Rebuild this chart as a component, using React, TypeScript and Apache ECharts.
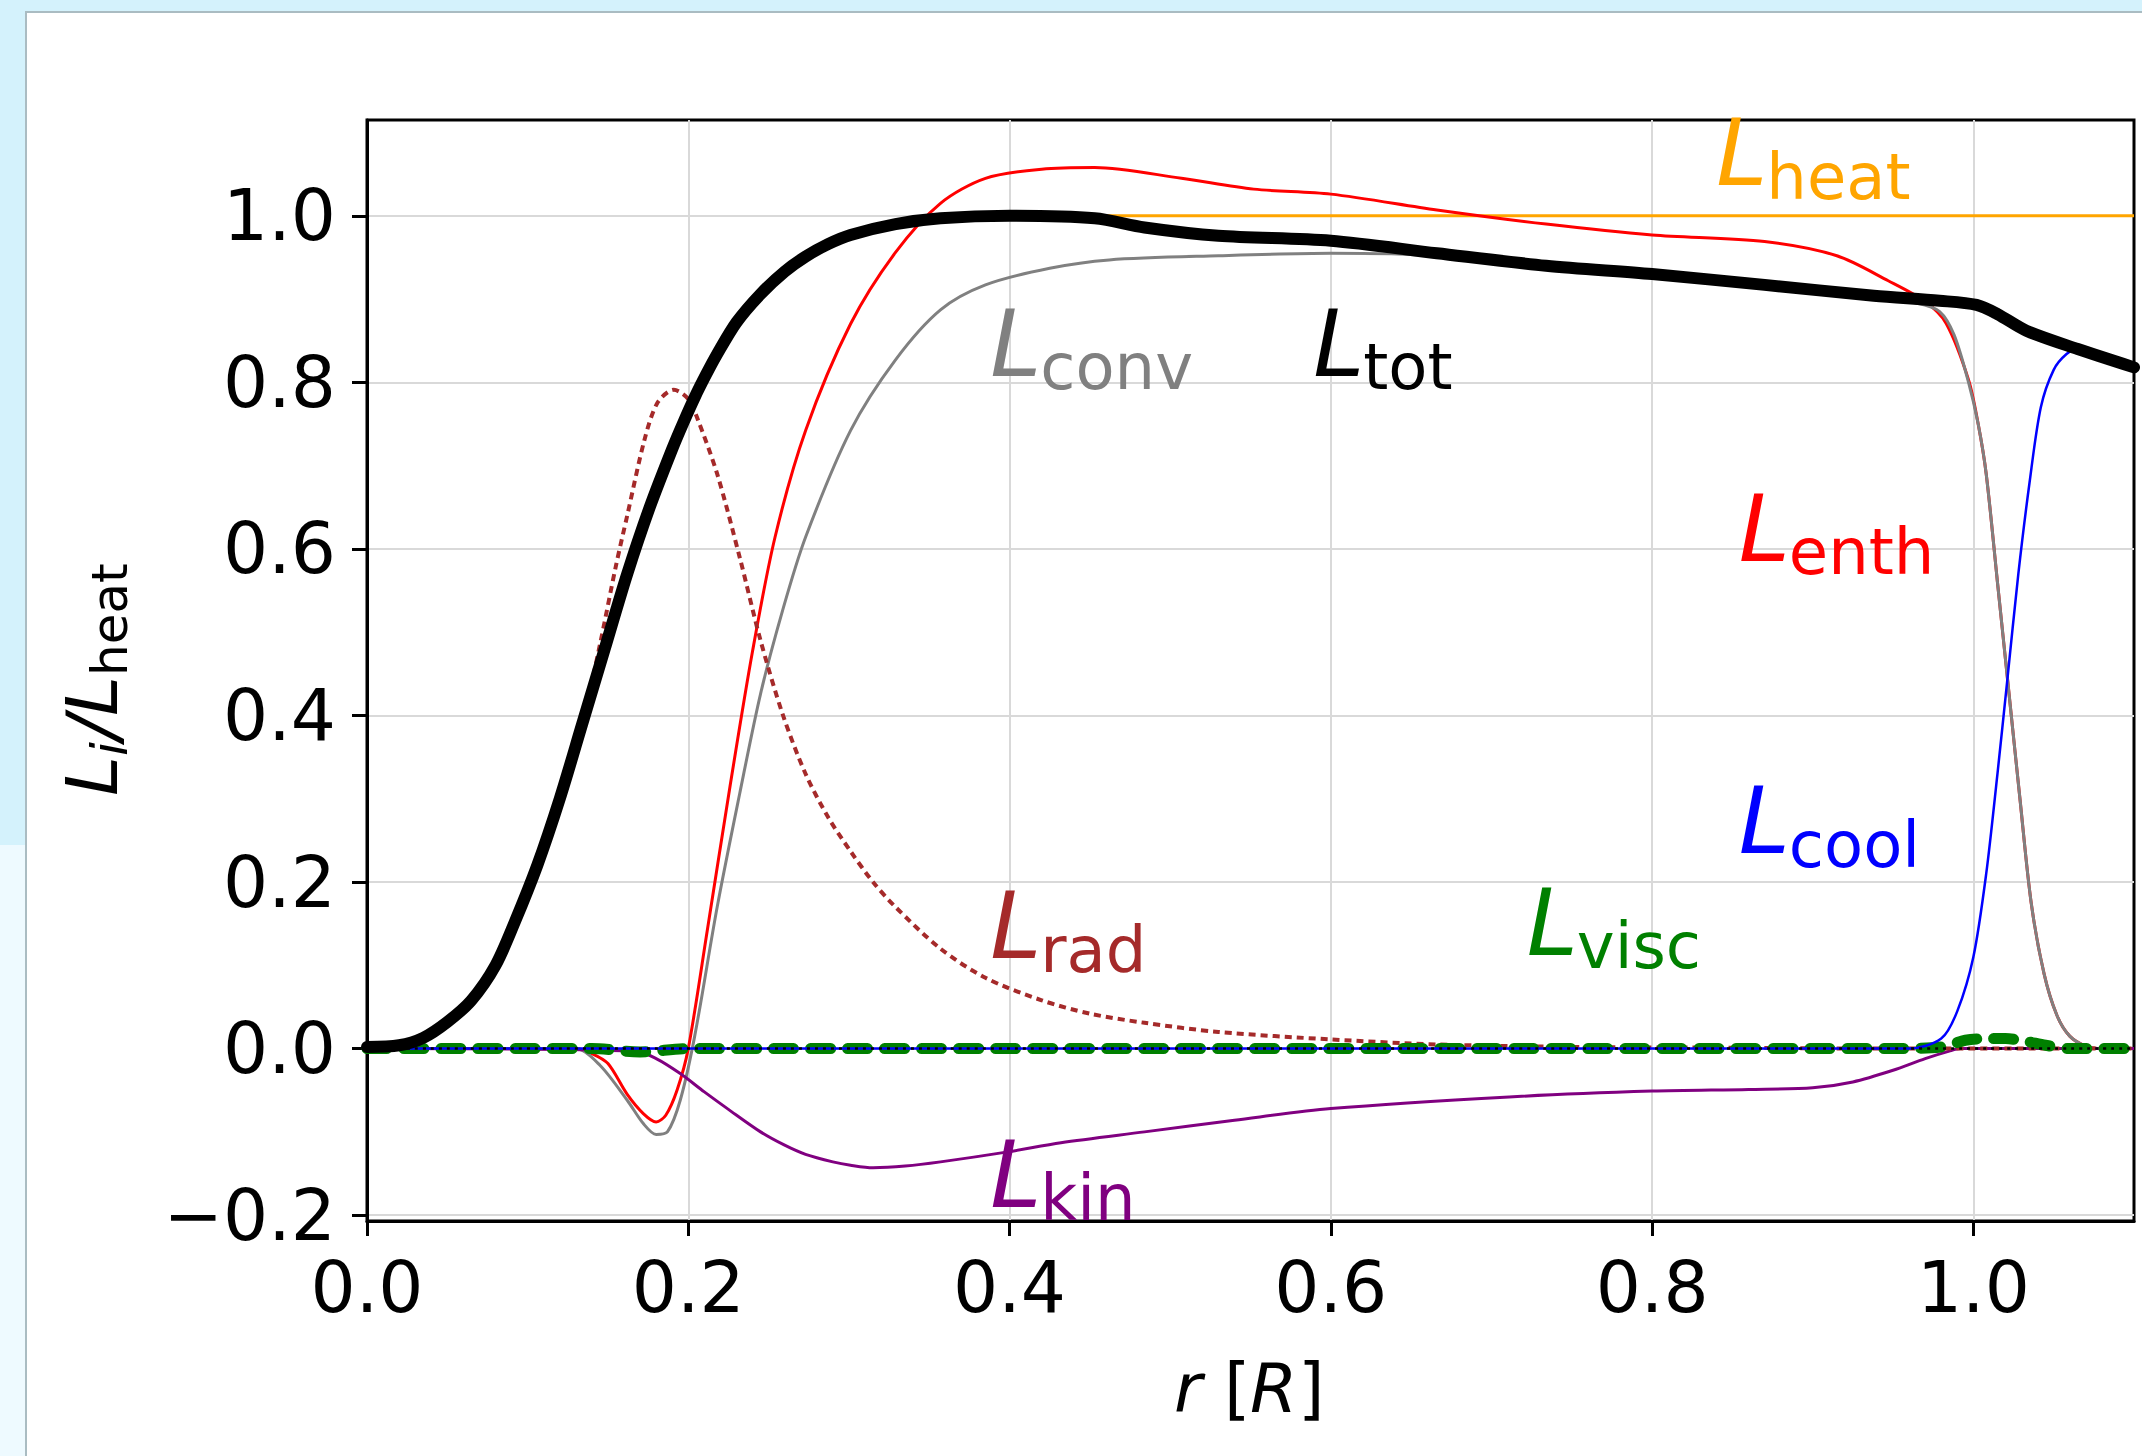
import React, { useEffect, useRef } from 'react';
import * as echarts from 'echarts';

// ---------- tick values ----------
const xTicks = [0, 0.2, 0.4, 0.6, 0.8, 1.0];
const yTicks = [-0.2, 0, 0.2, 0.4, 0.6, 0.8, 1.0];

// ---------- series data (r in units of R, L_i / L_heat) ----------
const rTot = [0, 0.02, 0.035, 0.05, 0.065, 0.08, 0.092, 0.106, 0.12, 0.134, 0.148, 0.162, 0.176, 0.19, 0.197, 0.204, 0.211, 0.218, 0.23, 0.245, 0.26, 0.273, 0.287, 0.301, 0.329, 0.357, 0.4, 0.453, 0.484, 0.53, 0.6, 0.666, 0.734, 0.8, 0.87, 0.938, 0.979, 1.002, 1.015, 1.033, 1.065, 1.1];
const lTot = [0.002, 0.004, 0.013, 0.032, 0.058, 0.1, 0.152, 0.22, 0.3, 0.39, 0.48, 0.57, 0.65, 0.72, 0.752, 0.782, 0.809, 0.834, 0.872, 0.906, 0.933, 0.951, 0.966, 0.977, 0.99, 0.997, 1.0, 0.997, 0.986, 0.976, 0.97, 0.955, 0.94, 0.93, 0.917, 0.904, 0.898, 0.893, 0.882, 0.862, 0.84, 0.818];

const rEnth = [0, 0.13, 0.14, 0.15, 0.162, 0.172, 0.18, 0.186, 0.193, 0.2, 0.212, 0.226, 0.24, 0.254, 0.273, 0.301, 0.329, 0.357, 0.385, 0.42, 0.453, 0.507, 0.552, 0.6, 0.666, 0.734, 0.8, 0.87, 0.915, 0.947, 0.97, 0.983, 0.997, 1.003, 1.008, 1.015, 1.022, 1.029, 1.036, 1.044, 1.052, 1.06, 1.07, 1.08, 1.1];
const lEnth = [0, 0, -0.006, -0.018, -0.055, -0.078, -0.088, -0.08, -0.05, 0.0, 0.144, 0.315, 0.477, 0.614, 0.742, 0.87, 0.956, 1.015, 1.045, 1.056, 1.058, 1.045, 1.032, 1.026, 1.007, 0.99, 0.977, 0.969, 0.952, 0.922, 0.897, 0.871, 0.803, 0.75, 0.69, 0.56, 0.43, 0.3, 0.175, 0.09, 0.04, 0.015, 0.003, 0, 0];

const rConv = [0, 0.13, 0.145, 0.162, 0.172, 0.18, 0.187, 0.195, 0.204, 0.218, 0.232, 0.245, 0.259, 0.273, 0.301, 0.329, 0.357, 0.385, 0.425, 0.462, 0.53, 0.6, 0.666, 0.734, 0.8, 0.87, 0.938, 0.965, 0.979, 0.988, 0.997, 1.003, 1.008, 1.015, 1.022, 1.029, 1.036, 1.044, 1.052, 1.06, 1.07, 1.08, 1.1];
const lConv = [0, 0, -0.02, -0.062, -0.09, -0.103, -0.1, -0.062, 0.015, 0.17, 0.306, 0.426, 0.528, 0.614, 0.742, 0.827, 0.887, 0.917, 0.937, 0.947, 0.952, 0.955, 0.952, 0.938, 0.928, 0.915, 0.902, 0.895, 0.885, 0.857, 0.8, 0.75, 0.69, 0.56, 0.43, 0.3, 0.175, 0.09, 0.04, 0.015, 0.003, 0, 0];

const rRad = [0, 0.02, 0.035, 0.05, 0.065, 0.08, 0.092, 0.106, 0.12, 0.134, 0.145, 0.155, 0.162, 0.173, 0.181, 0.191, 0.2, 0.206, 0.218, 0.232, 0.245, 0.259, 0.273, 0.287, 0.301, 0.315, 0.329, 0.357, 0.385, 0.42, 0.45, 0.484, 0.53, 0.6, 0.666, 0.75, 0.85, 0.95, 1.1];
const lRad = [0.002, 0.004, 0.013, 0.032, 0.058, 0.1, 0.152, 0.22, 0.3, 0.39, 0.485, 0.58, 0.64, 0.733, 0.776, 0.791, 0.78, 0.755, 0.69, 0.59, 0.49, 0.4, 0.33, 0.278, 0.237, 0.2, 0.17, 0.12, 0.085, 0.058, 0.042, 0.031, 0.02, 0.011, 0.005, 0.002, 0.001, 0, 0];

const rKin = [0, 0.167, 0.18, 0.195, 0.21, 0.225, 0.245, 0.26, 0.273, 0.29, 0.301, 0.315, 0.335, 0.357, 0.399, 0.432, 0.484, 0.54, 0.6, 0.711, 0.8, 0.86, 0.9, 0.925, 0.95, 0.97, 0.985, 0.992, 1.1];
const lKin = [0, -0.003, -0.012, -0.03, -0.052, -0.073, -0.1, -0.116, -0.127, -0.136, -0.14, -0.143, -0.141, -0.136, -0.124, -0.113, -0.1, -0.086, -0.072, -0.058, -0.051, -0.049, -0.047, -0.04, -0.026, -0.012, -0.003, 0, 0];

const rCool = [0, 0.96, 0.98, 0.99, 1.0, 1.008, 1.015, 1.021, 1.028, 1.035, 1.042, 1.05, 1.058, 1.065, 1.08, 1.1];
const lCool = [0, 0, 0.012, 0.045, 0.11, 0.21, 0.33, 0.44, 0.57, 0.68, 0.77, 0.815, 0.834, 0.84, 0.832, 0.818];

const rVisc = [0, 0.14, 0.17, 0.2, 0.95, 0.98, 0.995, 1.008, 1.02, 1.032, 1.045, 1.06, 1.1];
const lVisc = [0, 0, -0.004, 0, 0, 0.002, 0.01, 0.012, 0.012, 0.009, 0.004, 0, 0];

const rHeat = [0.4, 1.1];
const lHeat = [1.0, 1.0];

const rZero = [0, 1.1];
const lZero = [0, 0];

// ---------- curve label anchors (data coords of L's baseline-left) ----------
const curveLabels = [
  { sub: 'heat', color: '#ffa500', r: 0.84, v: 1.036 },
  { sub: 'conv', color: '#808080', r: 0.388, v: 0.807 },
  { sub: 'tot', color: '#000000', r: 0.589, v: 0.807 },
  { sub: 'enth', color: '#ff0000', r: 0.854, v: 0.585 },
  { sub: 'cool', color: '#0000ff', r: 0.854, v: 0.234 },
  { sub: 'rad', color: '#a52a2a', r: 0.388, v: 0.108 },
  { sub: 'visc', color: '#008000', r: 0.722, v: 0.112 },
  { sub: 'kin', color: '#800080', r: 0.388, v: -0.19 },
];

const W = 2142;
const H = 1456;
const FONT = 'DejaVu Sans';
const K = 0.346; // central-baseline offset (em) for DejaVu Sans
const LFS = 92;
const SFS = 64;
const TFS = 71;

function pairs(xs: number[], ys: number[]) {
  return xs.map((x, i) => [x, ys[i]]);
}

function fmt(v: number) {
  const s = Math.abs(v).toFixed(1);
  return v < -1e-9 ? '\u2212' + s : s;
}

export default function App() {
  const ref = useRef<HTMLDivElement>(null);

  useEffect(() => {
    const el = ref.current!;
    const chart = echarts.init(el, null, { renderer: 'svg', width: W, height: H });

    const line = (name: string, xs: number[], ys: number[], color: string, width: number, type: any = 'solid', cap: any = 'butt') => ({
      type: 'line',
      name,
      data: pairs(xs, ys),
      showSymbol: false,
      symbol: 'none',
      smooth: 0.3,
      silent: true,
      lineStyle: { color, width, type, cap, join: 'round' },
    });

    chart.setOption({
      animation: false,
      backgroundColor: 'transparent',
      grid: {
        left: 367,
        top: 120,
        right: 8,
        bottom: 235,
        show: true,
        borderColor: '#000',
        borderWidth: 3,
        backgroundColor: 'transparent',
        containLabel: false,
        outerBoundsMode: 'none',
      },
      xAxis: {
        type: 'value',
        min: 0,
        max: 1.1,
        interval: 0.2,
        axisLine: { show: true, onZero: false, lineStyle: { color: '#000', width: 3 } },
        axisTick: { show: true, length: 15, lineStyle: { color: '#000', width: 3 }, customValues: xTicks },
        axisLabel: { customValues: xTicks, formatter: fmt, fontSize: TFS, fontFamily: FONT, color: '#000', margin: 31 },
        splitLine: { show: true, lineStyle: { color: '#d9d9d9', width: 2 } },
      },
      yAxis: {
        type: 'value',
        min: -0.207,
        max: 1.115,
        splitNumber: 7,
        axisLine: { show: true, onZero: false, lineStyle: { color: '#000', width: 3 } },
        axisTick: { show: true, length: 15, lineStyle: { color: '#000', width: 3 }, customValues: yTicks },
        axisLabel: { customValues: yTicks, formatter: fmt, fontSize: TFS, fontFamily: FONT, color: '#000', margin: 31 },
        splitLine: { show: true, lineStyle: { color: '#d9d9d9', width: 2 } },
      },
      series: [
        line('L_heat', rHeat, lHeat, '#ffa500', 3),
        line('L_enth', rEnth, lEnth, '#ff0000', 3),
        line('L_conv', rConv, lConv, '#808080', 3),
        line('L_kin', rKin, lKin, '#800080', 3),
        line('L_rad', rRad, lRad, '#a52a2a', 4, [7, 5]),
        line('L_visc', rVisc, lVisc, '#008000', 11, [20, 17], 'round'),
        line('L_cool', rCool, lCool, '#0000ff', 2.5),
        line('zero', rZero, lZero, '#000000', 2.5, [3, 5]),
        line('L_tot', rTot, lTot, '#000000', 12, 'solid', 'round'),
      ],
    });

    const graphics: any[] = curveLabels.map((l) => {
      const [px, py] = chart.convertToPixel({ gridIndex: 0 } as any, [l.r, l.v]) as number[];
      return {
        type: 'group',
        x: px,
        y: py,
        silent: true,
        children: [
          {
            type: 'text',
            x: 0,
            y: -K * LFS,
            style: { text: 'L', fontSize: LFS, fontStyle: 'italic', fontFamily: FONT, fill: l.color, align: 'left', verticalAlign: 'middle' },
          },
          {
            type: 'text',
            x: 50,
            y: 13 - K * SFS,
            style: { text: l.sub, fontSize: SFS, fontFamily: FONT, fill: l.color, align: 'left', verticalAlign: 'middle' },
          },
        ],
      };
    });

    // x-axis title: r [R]
    graphics.push({
      type: 'group',
      x: 1250,
      y: 1412 - K * 68,
      silent: true,
      children: [
        { type: 'text', x: -76, y: 0, style: { text: 'r', fontSize: 68, fontStyle: 'italic', fontFamily: FONT, fill: '#000', align: 'left', verticalAlign: 'middle' } },
        { type: 'text', x: -26, y: 0, style: { text: '[', fontSize: 68, fontFamily: FONT, fill: '#000', align: 'left', verticalAlign: 'middle' } },
        { type: 'text', x: 0, y: 0, style: { text: 'R', fontSize: 68, fontStyle: 'italic', fontFamily: FONT, fill: '#000', align: 'left', verticalAlign: 'middle' } },
        { type: 'text', x: 48, y: 0, style: { text: ']', fontSize: 68, fontFamily: FONT, fill: '#000', align: 'left', verticalAlign: 'middle' } },
      ],
    });

    // y-axis title: L_i / L_heat (rotated)
    const YF = 72;
    const YS = 50;
    graphics.push({
      type: 'group',
      x: 117,
      y: 680,
      rotation: Math.PI / 2,
      silent: true,
      children: [
        { type: 'text', x: -116, y: -K * YF, style: { text: 'L', fontSize: YF, fontStyle: 'italic', fontFamily: FONT, fill: '#000', align: 'left', verticalAlign: 'middle' } },
        { type: 'text', x: -76, y: 10 - K * YS, style: { text: 'i', fontSize: YS, fontStyle: 'italic', fontFamily: FONT, fill: '#000', align: 'left', verticalAlign: 'middle' } },
        { type: 'text', x: -60, y: -K * YF, style: { text: '/', fontSize: YF, fontStyle: 'italic', fontFamily: FONT, fill: '#000', align: 'left', verticalAlign: 'middle' } },
        { type: 'text', x: -36, y: -K * YF, style: { text: 'L', fontSize: YF, fontStyle: 'italic', fontFamily: FONT, fill: '#000', align: 'left', verticalAlign: 'middle' } },
        { type: 'text', x: 4, y: 10 - K * YS, style: { text: 'heat', fontSize: YS, fontFamily: FONT, fill: '#000', align: 'left', verticalAlign: 'middle' } },
      ],
    });

    chart.setOption({ graphic: graphics });

    return () => {
      chart.dispose();
    };
  }, []);

  return (
    <div style={{ position: 'fixed', left: 0, top: 0, width: W, height: H, background: '#d4f2fc', overflow: 'hidden' }}>
      <div style={{ position: 'absolute', left: 0, top: 845, width: 25, height: H - 845, background: '#eefaff' }} />
      <div
        style={{
          position: 'absolute',
          left: 25,
          top: 11,
          right: 0,
          bottom: 0,
          background: '#ffffff',
          borderLeft: '2px solid #aabcc2',
          borderTop: '2px solid #aabcc2',
        }}
      />
      <div ref={ref} style={{ position: 'absolute', left: 0, top: 0, width: W, height: H }} />
    </div>
  );
}
